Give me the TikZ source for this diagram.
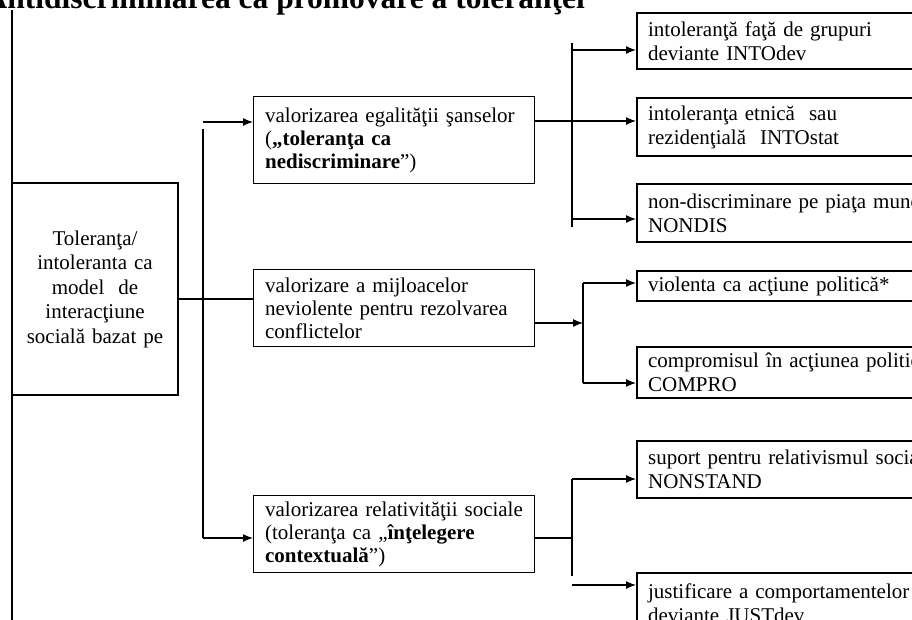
\documentclass[tikz,border=0pt]{standalone}
\usepackage{fontspec}
\setmainfont{Liberation Serif}
\usetikzlibrary{positioning}
\usetikzlibrary{arrows.meta}

\begin{document}
\begin{tikzpicture}[x=1pt,y=-1pt,
	>={Latex[length=10pt,width=8pt]},
	conn/.style={line width=1.3pt},
	trunk/.style={line width=2.6pt},
	mainbox/.style={draw,line width=1.3pt,minimum width=166pt,minimum height=212pt,text width=150pt,align=center,inner sep=0pt,font=\fontsize{21}{24.5}\selectfont},
	midbox/.style={draw,line width=1.3pt,anchor=north west,text width=258pt,inner xsep=11.5pt,inner ysep=0pt,align=left,font=\fontsize{21}{23}\selectfont},
	leafbox/.style={draw,line width=2.2pt,anchor=north west,text width=360pt,inner xsep=11pt,inner ysep=0pt,align=left,font=\fontsize{21}{24}\selectfont}]
	\useasboundingbox (0,0) rectangle (912,620);
	\clip (0,0) rectangle (912,620);
	% title, cut by the page edge
	\node[anchor=base east,inner sep=0pt,font=\fontsize{31.5}{36}\selectfont\bfseries] (title) at (585,8.5) {Antidiscriminarea ca promovare a toleranţei};
	% main box and the three values
	\node[mainbox] (main) at (95,289) {Toleranţa/\\intoleranta ca\\model~ de\\interacţiune\\socială bazat pe};
	\node[midbox,minimum height=87pt] (egal) at (253,96) {valorizarea egalităţii şanselor\\(\textbf{„toleranţa ca}\\\textbf{nediscriminare}”)};
	\node[midbox,minimum height=77pt] (nonv) at (253,269) {valorizare a mijloacelor\\neviolente pentru rezolvarea\\conflictelor};
	\node[midbox,minimum height=77pt] (relat) at (253,495) {valorizarea relativităţii sociale\\(toleranţa ca „\textbf{înţelegere}\\\textbf{contextuală}”)};
	% indicators
	\node[leafbox,minimum height=56pt] (intodev) at (636,12) {intoleranţă faţă de grupuri\\deviante INTOdev};
	\node[leafbox,minimum height=58pt] (intostat) at (636,97) {intoleranţa etnică~ sau\\rezidenţială~ INTOstat};
	\node[leafbox,minimum height=58pt] (nondis) at (636,183) {non-discriminare pe piaţa muncii\\NONDIS};
	\node[leafbox,minimum height=30pt] (viol) at (636,270) {violenta ca acţiune politică*};
	\node[leafbox,minimum height=51pt] (compro) at (636,346) {compromisul în acţiunea politică\\COMPRO};
	\node[leafbox,minimum height=57pt] (nonstand) at (636,440) {suport pentru relativismul social\\NONSTAND};
	\node[leafbox,minimum height=60pt] (justdev) at (636,572) {justificare a comportamentelor\\deviante JUSTdev};
	% left bar
	\coordinate (lt) at (12,10);
	\coordinate (lb) at (12,640);
	\draw[trunk] (lt) -- (lb);
	% main -> values
	\coordinate (a1) at (203,122);
	\coordinate (a0) at (203,129);
	\coordinate (a2) at (203,299);
	\coordinate (a3) at (203,538);
	\draw[conn,->] (a1) -- (a1 -| egal.west);
	\draw[conn] (a0) -- (a3);
	\draw[conn,->] (a3) -- (a3 -| relat.west);
	\draw[conn] (main.east |- a2) -- (a2 -| nonv.west);
	% egalitate -> indicators
	\coordinate (b1) at (572,43);
	\coordinate (b2) at (572,227);
	\coordinate (bA) at (572,50);
	\coordinate (bB) at (572,121);
	\coordinate (bC) at (572,219);
	\draw[conn] (b1) -- (b2);
	\draw[conn,->] (bA) -- (bA -| intodev.west);
	\draw[conn,->] (egal.east |- bB) -- (bB -| intostat.west);
	\draw[conn,->] (bC) -- (bC -| nondis.west);
	% nonviolenta -> indicators
	\coordinate (c0) at (583,323);
	\coordinate (cD) at (583,283);
	\coordinate (cE) at (583,383);
	\draw[conn,->] (nonv.east |- c0) -- (c0);
	\draw[conn] (cD) -- (cE);
	\draw[conn,->] (cD) -- (cD -| viol.west);
	\draw[conn,->] (cE) -- (cE -| compro.west);
	% relativitate -> indicators
	\coordinate (d0) at (572,538);
	\coordinate (dF) at (572,479);
	\coordinate (dE) at (572,576);
	\coordinate (dG) at (572,585);
	\draw[conn] (relat.east |- d0) -- (d0);
	\draw[conn] (dF) -- (dE);
	\draw[conn,->] (dF) -- (dF -| nonstand.west);
	\draw[conn,->] (dG) -- (dG -| justdev.west);
\end{tikzpicture}
\end{document}
